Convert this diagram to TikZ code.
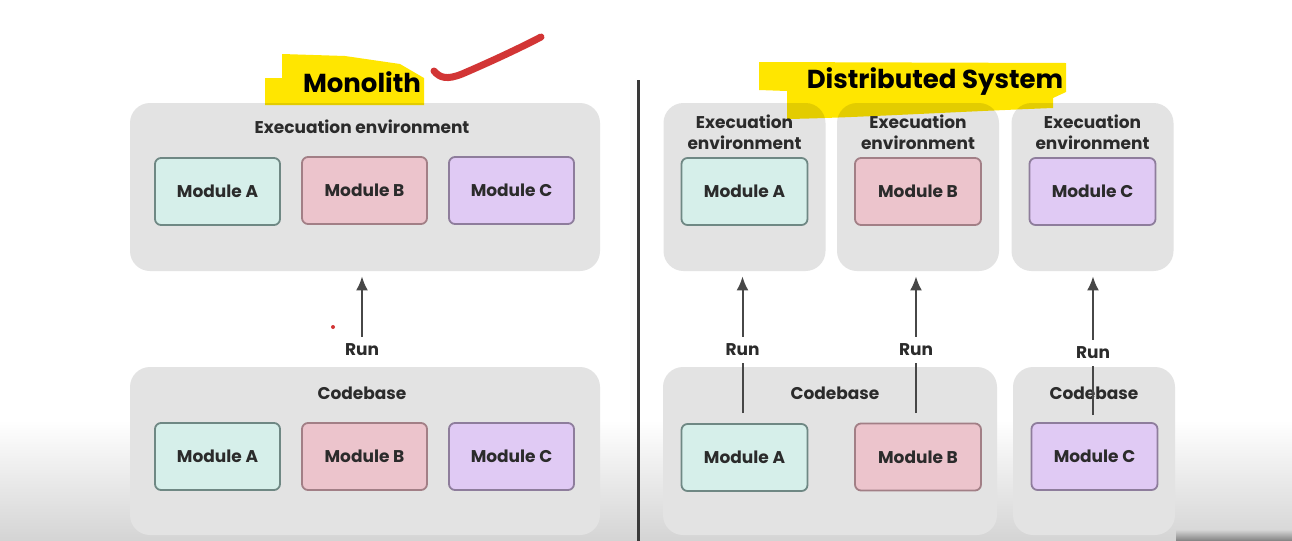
\documentclass[tikz,border=0pt]{standalone}
\usepackage{fontspec}
\setmainfont{Poppins}
\usepackage{tikz}
\usetikzlibrary{arrows.meta}
\definecolor{envgray}{HTML}{E3E3E3}
\definecolor{shadegray}{HTML}{D4D4D4}
\definecolor{modAfill}{HTML}{D6EFEA}
\definecolor{modAdraw}{HTML}{6F8884}
\definecolor{modBfill}{HTML}{ECC4CC}
\definecolor{modBdraw}{HTML}{A27F86}
\definecolor{modCfill}{HTML}{E0CAF4}
\definecolor{modCdraw}{HTML}{8E7D9C}
\definecolor{txtdark}{HTML}{2B2B2B}
\definecolor{arrowgray}{HTML}{474747}
\definecolor{hlyellow}{HTML}{FFE600}
\definecolor{checkred}{HTML}{D23535}
\definecolor{divgray}{HTML}{3A3A3A}

\begin{document}
\begin{tikzpicture}[x=0.5pt,y=-0.5pt,
		envbox/.style={fill=envgray, rounded corners=10pt, inner sep=0pt, minimum height=84pt},
		modbox/.style={draw, line width=0.9pt, rounded corners=3pt, minimum width=62.5pt, minimum height=33.5pt, text=txtdark, font=\bfseries\fontsize{8.5}{10}\selectfont},
		modA/.style={modbox, fill=modAfill, draw=modAdraw},
		modB/.style={modbox, fill=modBfill, draw=modBdraw},
		modC/.style={modbox, fill=modCfill, draw=modCdraw},
		boxlbl/.style={text=txtdark, align=center, inner sep=0pt, font=\bfseries\fontsize{8.5}{10.5}\selectfont},
		runlbl/.style={text=txtdark, inner sep=3.5pt, font=\bfseries\fontsize{8.5}{10}\selectfont},
		runarrow/.style={draw=arrowgray, line width=1pt, -{Latex[length=7pt,width=6pt]}, shorten >=2.5pt},
		runline/.style={draw=arrowgray, line width=1pt},
		title/.style={text=black, inner sep=0pt, font=\bfseries\fontsize{13}{15}\selectfont}]
	\useasboundingbox (0,0) rectangle (1292,541);
	\fill[white] (0,0) rectangle (1292,541);
	\shade[top color=white, bottom color=shadegray] (0,420) rectangle (1292,541);
	\shade[top color=shadegray, bottom color=gray] (1176,530) rectangle (1292,541);

	% monolith
	\node[envbox, minimum width=235pt] (monoEnv) at (365,187) {};
	\node[boxlbl] (monoEnvLbl) at (362,127) {Execuation environment};
	\node[modA] (monoEnvA) at (217.5,191.5) {Module A};
	\node[modB] (monoEnvB) at (364.5,190.5) {Module B};
	\node[modC] (monoEnvC) at (511.5,190.5) {Module C};
	\node[envbox, minimum width=235pt] (monoCode) at (365,451) {};
	\node[boxlbl] (monoCodeLbl) at (362,393) {Codebase};
	\node[modA] (monoCodeA) at (217.5,456.5) {Module A};
	\node[modB] (monoCodeB) at (364.5,456.5) {Module B};
	\node[modC] (monoCodeC) at (511.5,456.5) {Module C};
	\node[runlbl] (monoRun) at (362,350) {Run};
	\draw[runarrow] (monoRun.north) -- (monoRun.north |- monoEnv.south);
	\fill[checkred] (333,327) circle (2);

	\draw[divgray, line width=1.5pt] (638,80) -- (638,541);

	% distributed
	\foreach \nm/\cx/\md in {A/744.5/modA, B/918/modB, C/1092.5/modC} {
		\node[envbox, minimum width=81pt] (distEnv\nm) at (\cx,187) {};
		\node[boxlbl] (distEnvLbl\nm) at (\cx,132.5) {Execuation\\environment};
		\node[\md, minimum width=63pt] (distEnv\nm Mod) at (\cx,191.5) {Module \nm};
	}
	\node[envbox, minimum width=167pt] (distCodeAB) at (830,451) {};
	\node[boxlbl] (distCodeLblAB) at (835,393) {Codebase};
	\node[envbox, minimum width=81pt] (distCodeC) at (1094,451) {};
	\node[boxlbl] (distCodeLblC) at (1094,393) {Codebase};
	\node[modA, minimum width=63pt] (distCodeA) at (744.5,457.5) {Module A};
	\node[modB, minimum width=63pt] (distCodeB) at (918,457) {Module B};
	\node[modC, minimum width=63pt] (distCodeC) at (1094.5,456.5) {Module C};

	\node[runlbl] (distRunA) at (742.5,350) {Run};
	\node[runlbl] (distRunB) at (916,350) {Run};
	\node[runlbl] (distRunC) at (1093,353) {Run};
	\coordinate (distFromA) at (742.5,413);
	\coordinate (distFromB) at (916,413);
	\coordinate (distFromC) at (1093,415);
	\foreach \nm in {A,B,C} {
		\draw[runarrow] (distRun\nm.north) -- (distRun\nm.north |- distEnv\nm.south);
		\draw[runline] (distFrom\nm) -- (distRun\nm.south);
	}

	% titles and marker
	\node[title] (monoTitle) at (362,82) {Monolith};
	\node[title] (distTitle) at (935,82) {Distributed System};
	\begin{scope}[blend mode=multiply]
		\fill[hlyellow] (265,78) -- (282,78) -- (282,54) -- (345,56) -- (400,64) -- (424,78) -- (424,105) -- (265,105) -- cycle;
		\fill[hlyellow] (759,62) -- (1066,63) -- (1066,92) -- (1053,98) -- (1053,108) .. controls (950,112) and (850,118) .. (787,119) -- (787,91) -- (759,90) -- cycle;
	\end{scope}
	\draw[checkred, line width=3.5pt, line cap=round, line join=round] (434,71) .. controls (440,78) and (447,80) .. (462,74) .. controls (490,62) and (520,48) .. (541,37);
\end{tikzpicture}
\end{document}
